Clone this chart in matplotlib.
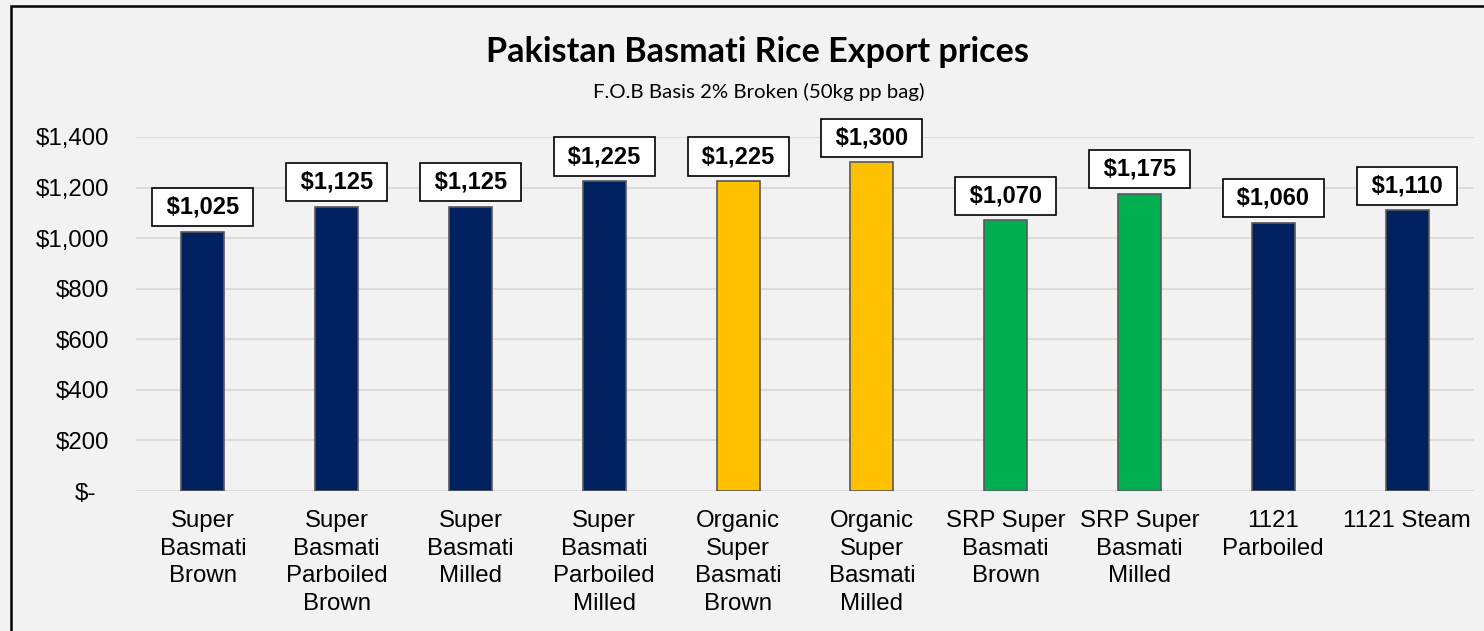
import matplotlib.pyplot as plt
from matplotlib.patches import Rectangle
from matplotlib.transforms import ScaledTranslation

# data
categories = [
    "Super\nBasmati\nBrown",
    "Super\nBasmati\nParboiled\nBrown",
    "Super\nBasmati\nMilled",
    "Super\nBasmati\nParboiled\nMilled",
    "Organic\nSuper\nBasmati\nBrown",
    "Organic\nSuper\nBasmati\nMilled",
    "SRP Super\nBasmati\nBrown",
    "SRP Super\nBasmati\nMilled",
    "1121\nParboiled",
    "1121 Steam",
]
prices = [1025, 1125, 1125, 1225, 1225, 1300, 1070, 1175, 1060, 1110]
bar_colors = ["#002060", "#002060", "#002060", "#002060", "#FFC000",
              "#FFC000", "#00B050", "#00B050", "#002060", "#002060"]
y_ticks = [0, 200, 400, 600, 800, 1000, 1200, 1400]

W, H = 1484, 631
bg = "#F2F2F2"

plt.rcParams['font.family'] = ['Liberation Sans', 'DejaVu Sans']

fig = plt.figure(figsize=(W / 100, H / 100), dpi=100, facecolor=bg)
ax = fig.add_axes([136 / W, 1 - 491 / H, (1474 - 136) / W, (491 - 137) / H])
ax.set_facecolor(bg)

x = list(range(len(categories)))
ax.bar(x, prices, width=0.32, color=bar_colors, edgecolor="#595959",
       linewidth=1.2, zorder=3)

ax.set_xlim(-0.5, len(categories) - 0.5)
ax.set_ylim(0, 1400)
ax.set_yticks(y_ticks)
ax.set_yticklabels(["$-" if v == 0 else "${:,}".format(v) for v in y_ticks])
ax.set_xticks(x)
ax.set_xticklabels(categories, linespacing=1.32)
ax.tick_params(axis='y', length=0, pad=19, labelsize=17.3)
ax.tick_params(axis='x', length=0, pad=14, labelsize=17.3)
ax.grid(axis='y', color="#DEDBD8", linewidth=1.5, zorder=0)
for s in ax.spines.values():
    s.set_visible(False)

# "$-" sits a bit left of the other labels (accounting format)
zero_lbl = ax.get_yticklabels()[0]
zero_lbl.set_transform(zero_lbl.get_transform() +
                       ScaledTranslation(-13 / 100, 0, fig.dpi_scale_trans))

# value labels in white boxes
for xi, v in zip(x, prices):
    ax.annotate(" ${:,} ".format(v), (xi, v), xytext=(0, 9.5),
                textcoords="offset points", ha="center", va="bottom",
                fontsize=17, fontweight="bold", annotation_clip=False,
                bbox=dict(boxstyle="square,pad=0.32", fc="white",
                          ec="black", lw=1.2), zorder=4)

fig.text(758 / W, 1 - 62 / H, "Pakistan Basmati Rice Export prices",
         ha="center", va="baseline", fontsize=24.6, fontweight="bold",
         family=["Lato", "DejaVu Sans"])
fig.text(759 / W, 1 - 98 / H, "F.O.B Basis 2% Broken (50kg pp bag)",
         ha="center", va="baseline", fontsize=14.7,
         family=["Lato", "DejaVu Sans"])

# outer frame (right and bottom edges fall outside the picture)
fig.patches.append(Rectangle((11 / W, -0.1), 1.2, 1 - 6 / H + 0.1,
                             transform=fig.transFigure, fill=False,
                             ec="black", lw=1.8))

fig.savefig("out.png", dpi=100, facecolor=bg)
